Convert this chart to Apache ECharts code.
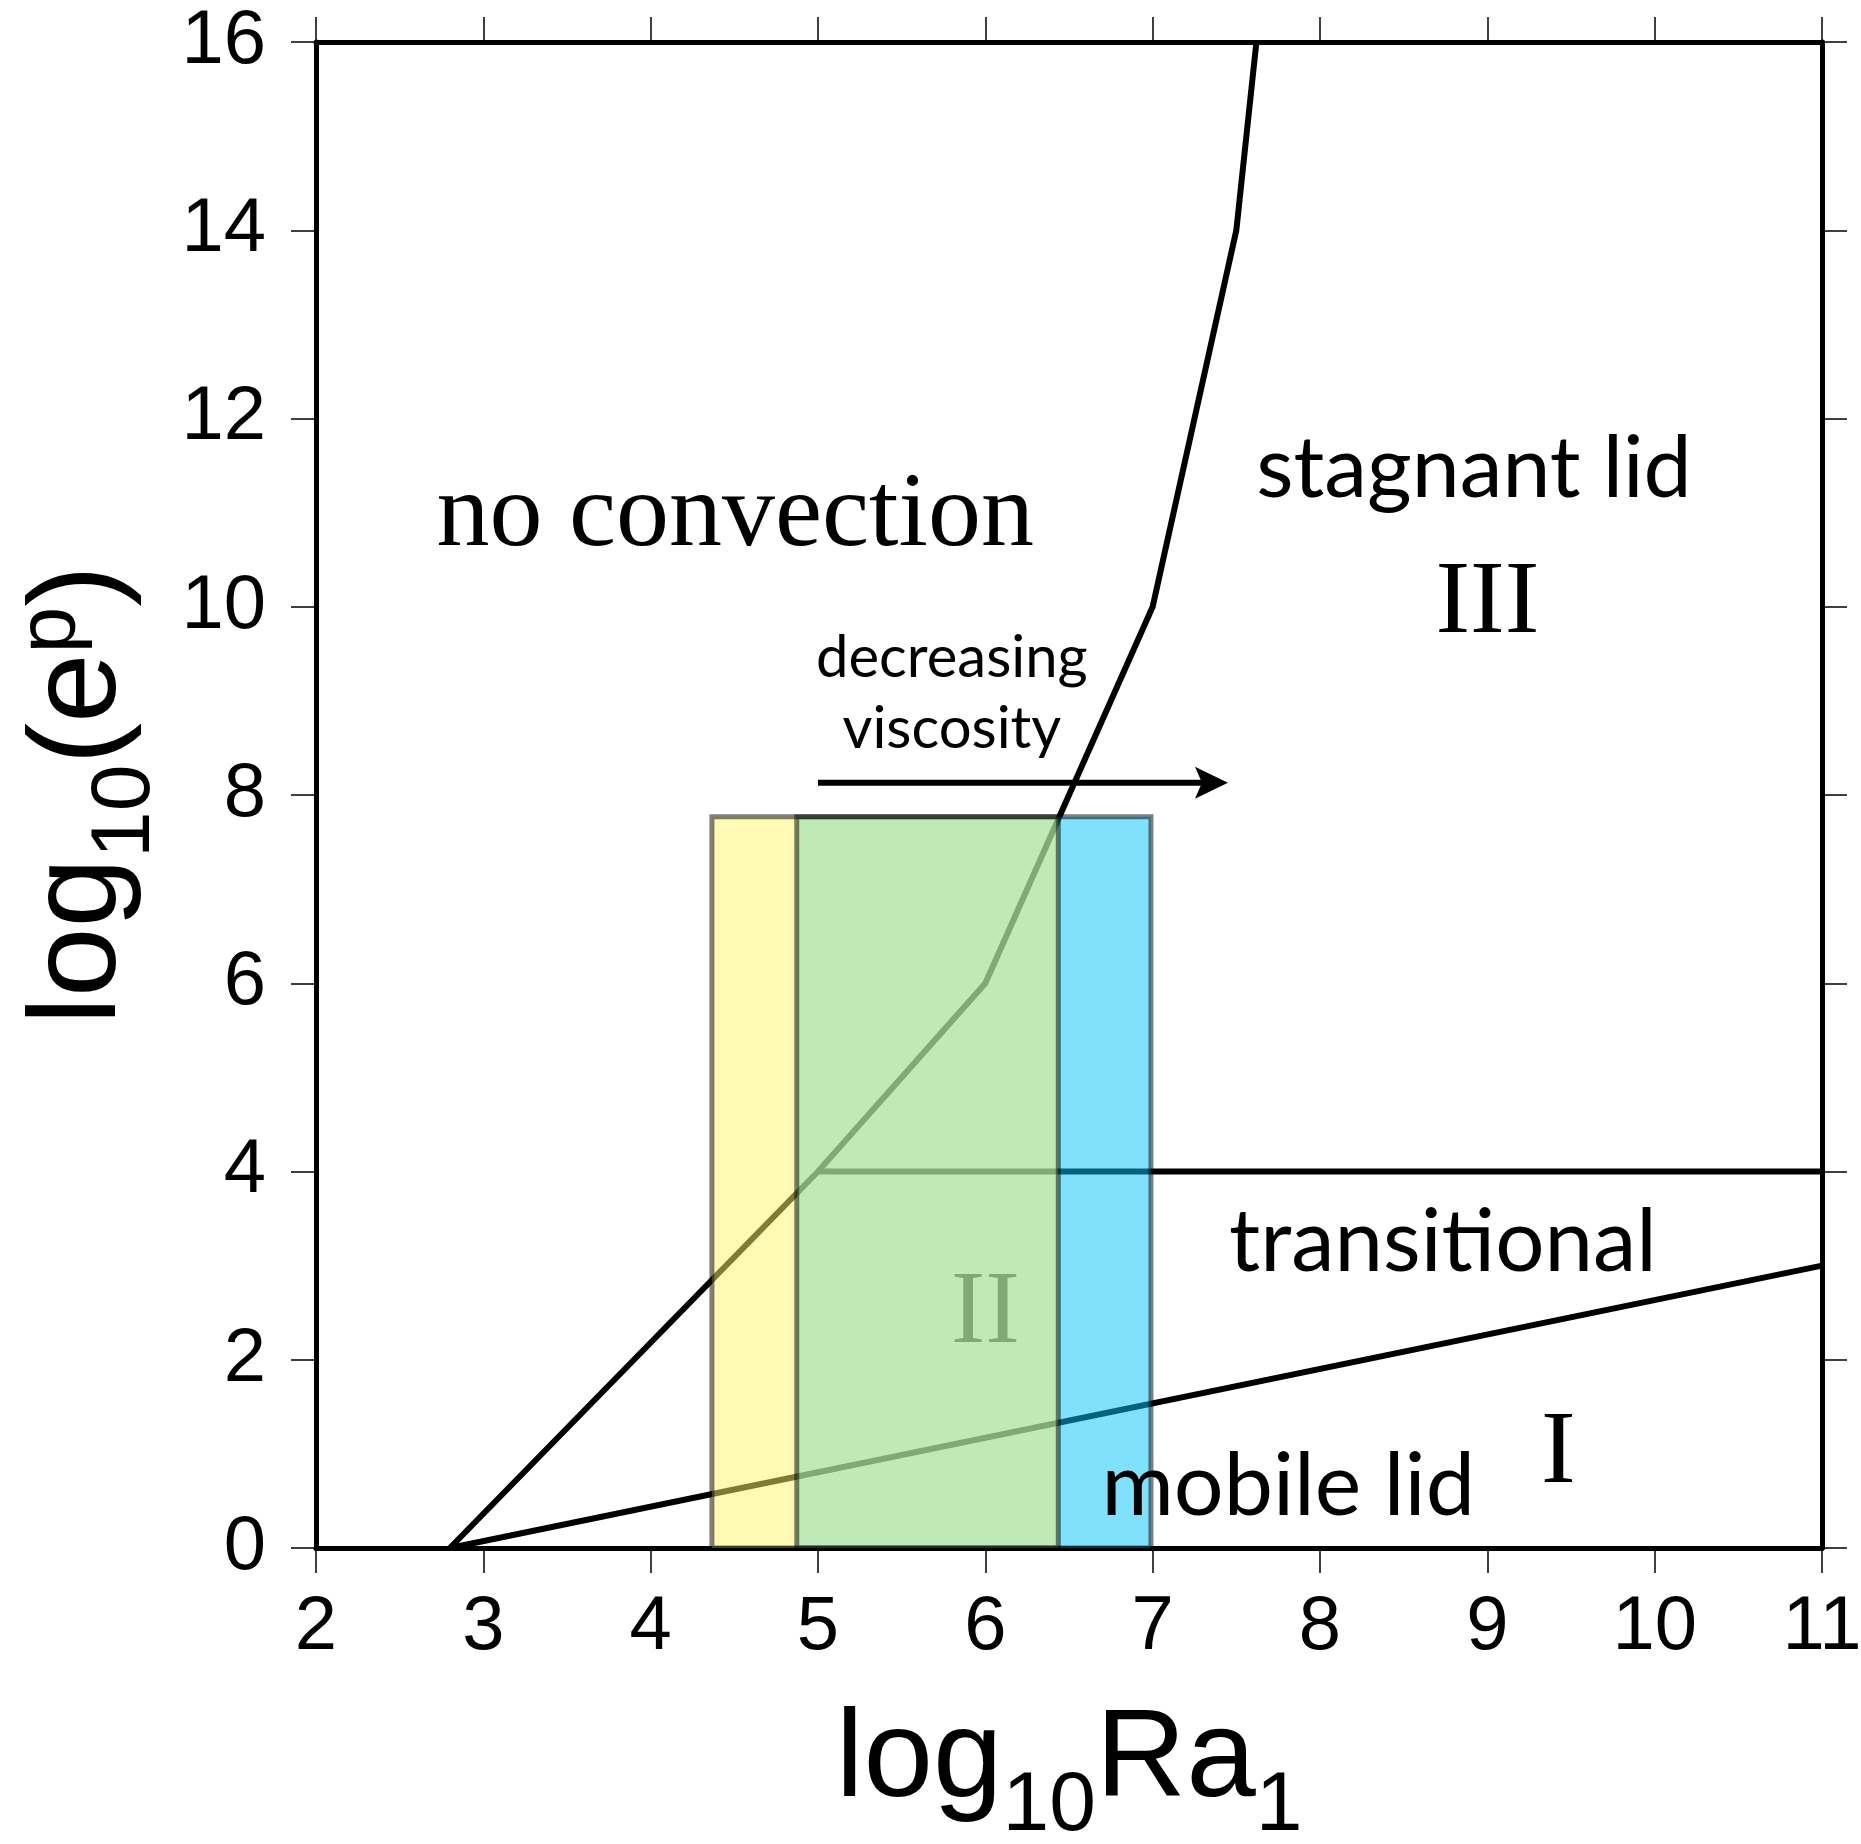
<!DOCTYPE html>
<html>
<head>
<meta charset="utf-8">
<script src="https://cdn.jsdelivr.net/npm/echarts@6/dist/echarts.min.js"></script>
<style>
html,body{margin:0;padding:0;background:#fff;}
#chart{width:1861px;height:1844px;}
</style>
</head>
<body>
<div id="chart"></div>
<script>
// ---- data (axis units: x = log10 Ra1, y = log10(e^p)) ----
const xMin = 2, xMax = 11, xStep = 1;
const yMin = 0, yMax = 16, yStep = 2;

// boundary between "no convection" and convective regimes
const onsetX = [2.8, 5, 6, 7, 7.5, 7.62];
const onsetY = [0, 4, 6, 10, 14, 16];
// boundary between transitional and stagnant lid
const stagnantX = [5, 11];
const stagnantY = [4, 4];
// boundary between mobile lid and transitional
const mobileX = [2.8, 11];
const mobileY = [0, 3];
// "decreasing viscosity" arrow
const arrowX = [5.0, 7.45];
const arrowY = [8.13, 8.13];
// shaded parameter ranges (fill bands) and their top
const bandX0 = [4.366, 4.873, 6.436];
const bandX1 = [4.873, 6.436, 6.99];
const bandTop = 7.77;
// outlined ranges
const boxX0 = [4.366, 4.873];
const boxX1 = [6.436, 6.99];
// annotations
const labelText = ['no convection', 'stagnant lid', 'III', 'decreasing\nviscosity', 'transitional', 'mobile lid', 'I'];
const labelX = [4.505, 8.92, 9.0, 5.8, 8.735, 7.81, 9.424];
const labelY = [10.95, 11.46, 10.02, 9.08, 3.24, 0.65, 0.99];
const underText = ['II'];
const underX = [6.0];
const underY = [2.48];

// ---- styles ----
const bandFill = ['rgba(255,243,110,0.5)', 'rgba(171,227,156,0.75)', 'rgba(0,196,250,0.5)'];
const serif = '"Liberation Serif", "Times New Roman", serif';
const humanist = 'Lato, "Open Sans", sans-serif';
const labelFont = [
  '106px ' + serif,
  '86px ' + humanist,
  '104px ' + serif,
  '58px ' + humanist,
  '87px ' + humanist,
  '88px ' + humanist,
  '104px ' + serif
];
const labelLineHeight = [110, 95, 110, 71, 95, 95, 110];

const zip = (a, b) => a.map((v, i) => [v, b[i]]);

const axisFont = '"Liberation Sans", Arial, Helvetica, sans-serif';
function makeAxis(pos, isX, showLabel) {
  return {
    type: 'value',
    position: pos,
    min: isX ? xMin : yMin,
    max: isX ? xMax : yMax,
    interval: isX ? xStep : yStep,
    axisLine: {show: true, onZero: false, lineStyle: {color: '#000', width: 5}},
    axisTick: {show: true, inside: false, length: 25, lineStyle: {color: '#000', width: 1.5}},
    axisLabel: {
      show: showLabel, color: '#000', fontSize: 76, fontFamily: axisFont,
      margin: isX ? 42 : 50, showMinLabel: true, showMaxLabel: true
    },
    splitLine: {show: false}
  };
}

const nameRich = {
  m: {fontSize: 125, fontFamily: axisFont, color: '#000'},
  s: {fontSize: 84, fontFamily: axisFont, color: '#000', padding: [90, 0, 0, 0]},
  p: {fontSize: 84, fontFamily: axisFont, color: '#000', padding: [0, 0, 58, 0]}
};

const xBottom = makeAxis('bottom', true, true);
xBottom.name = '{m|log}{s|10}{m|Ra}{s|1}';
xBottom.nameLocation = 'middle';
xBottom.nameGap = 127;
xBottom.nameTextStyle = {rich: nameRich};
const xTop = makeAxis('top', true, false);

const yLeft = makeAxis('left', false, true);
yLeft.name = '{m|log}{s|10}{m|(e}{p|p}{m|)}';
yLeft.nameLocation = 'middle';
yLeft.nameRotate = 90;
yLeft.nameGap = 148;
yLeft.nameTextStyle = {rich: nameRich};
const yRight = makeAxis('right', false, false);

function textSeries(texts, xs, ys, fonts, lhs, color, z) {
  return {
    type: 'custom', z: z, silent: true, clip: false,
    data: xs.map((x, i) => [x, ys[i], i]),
    encode: {x: 0, y: 1},
    renderItem: function (params, api) {
      const i = api.value(2);
      const pt = api.coord([api.value(0), api.value(1)]);
      return {
        type: 'text', x: pt[0], y: pt[1],
        style: {
          text: texts[i], font: fonts[i], fill: color,
          align: 'center', verticalAlign: 'middle',
          textAlign: 'center', textVerticalAlign: 'middle',
          lineHeight: lhs[i]
        }
      };
    }
  };
}

const lineStyle = {color: '#000', width: 6, join: 'miter', cap: 'butt'};
const option = {
  backgroundColor: '#fff',
  animation: false,
  grid: {left: 316, right: 39, top: 42, bottom: 296, containLabel: false, outerBoundsMode: 'none'},
  xAxis: [xBottom, xTop],
  yAxis: [yLeft, yRight],
  series: [
    {type: 'line', z: 2, data: zip(onsetX, onsetY), symbol: 'none', lineStyle: lineStyle, clip: false, silent: true},
    {type: 'line', z: 2, data: zip(stagnantX, stagnantY), symbol: 'none', lineStyle: lineStyle, clip: false, silent: true},
    {type: 'line', z: 2, data: zip(mobileX, mobileY), symbol: 'none', lineStyle: lineStyle, clip: false, silent: true},
    textSeries(underText, underX, underY, ['104px ' + serif], [110], '#000', 2),
    {
      type: 'custom', z: 3, silent: true,
      data: bandX0.map((x, i) => [x, bandX1[i], bandTop, i]),
      encode: {x: [0, 1], y: 2},
      renderItem: function (params, api) {
        const i = api.value(3);
        const p0 = api.coord([api.value(0), api.value(2)]);
        const p1 = api.coord([api.value(1), yMin]);
        return {type: 'rect', shape: {x: p0[0], y: p0[1], width: p1[0] - p0[0], height: p1[1] - p0[1]},
          style: {fill: bandFill[i], stroke: null}};
      }
    },
    {
      type: 'custom', z: 4, silent: true,
      data: boxX0.map((x, i) => [x, boxX1[i], bandTop]),
      encode: {x: [0, 1], y: 2},
      renderItem: function (params, api) {
        const p0 = api.coord([api.value(0), api.value(2)]);
        const p1 = api.coord([api.value(1), yMin]);
        return {type: 'rect', shape: {x: p0[0], y: p0[1], width: p1[0] - p0[0], height: p1[1] - p0[1]},
          style: {fill: null, stroke: 'rgba(0,0,0,0.5)', lineWidth: 5}};
      }
    },
    {
      type: 'custom', z: 5, silent: true,
      data: [[arrowX[0], arrowY[0], arrowX[1], arrowY[1]]],
      encode: {x: [0, 2], y: [1, 3]},
      renderItem: function (params, api) {
        const a = api.coord([api.value(0), api.value(1)]);
        const b = api.coord([api.value(2), api.value(3)]);
        const L = 33, W = 16, N = 7;
        return {
          type: 'group',
          children: [
            {type: 'line', shape: {x1: a[0], y1: a[1], x2: b[0] - L + N + 2, y2: b[1]},
              style: {stroke: '#000', lineWidth: 6}},
            {type: 'polygon', shape: {points: [[b[0], b[1]], [b[0] - L, b[1] - W], [b[0] - L + N, b[1]], [b[0] - L, b[1] + W]]},
              style: {fill: '#000'}}
          ]
        };
      }
    },
    textSeries(labelText, labelX, labelY, labelFont, labelLineHeight, '#000', 6)
  ]
};

const chart = echarts.init(document.getElementById('chart'), null, {renderer: 'canvas'});
chart.setOption(option);
</script>
</body>
</html>
